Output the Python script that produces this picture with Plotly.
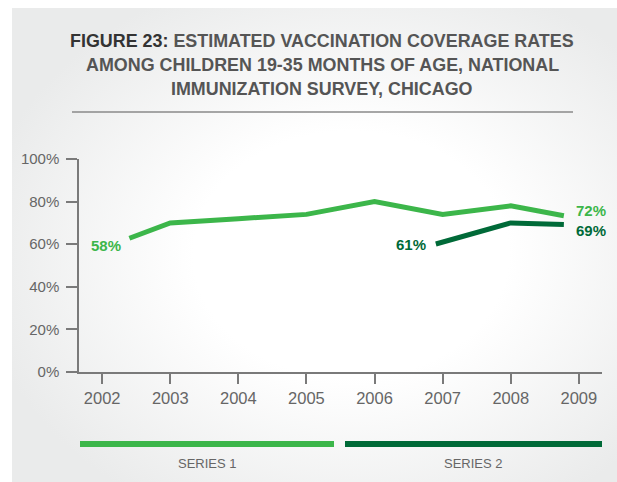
import base64
import plotly.graph_objects as go

# ---- data -------------------------------------------------------------
years = [2002, 2003, 2004, 2005, 2006, 2007, 2008, 2009]
series1_years = [2002, 2003, 2004, 2005, 2006, 2007, 2008, 2009]
series1_values = [58, 70, 72, 74, 80, 74, 78, 72]
series2_years = [2007, 2008, 2009]
series2_values = [61, 70, 69]
y_ticks = [0, 20, 40, 60, 80, 100]
y_tick_labels = ["0%", "20%", "40%", "60%", "80%", "100%"]
series_names = ["SERIES 1", "SERIES 2"]
title_lines = [
    "<b><span style='color:#333333'>FIGURE 23:</span> ESTIMATED VACCINATION COVERAGE RATES</b>",
    "<b>AMONG CHILDREN 19-35 MONTHS OF AGE, NATIONAL</b>",
    "<b>IMMUNIZATION SURVEY, CHICAGO</b>",
]

# ---- style ------------------------------------------------------------
LIGHT_GREEN = "#3cb64a"
DARK_GREEN = "#006a38"
AXIS_COLOR = "#7a7a7a"
TEXT_GREY = "#666666"
FONT = "Liberation Sans, Arial, sans-serif"

W, H = 617, 482
L, R, T, B = 79, 15, 159, 110
PW, PH = W - L - R, H - T - B


def px_x(px):
    return (px - L) / PW


def px_y(py):
    return (H - B - py) / PH


def trimmed(xs, ys, start_trim, end_trim):
    """Line runs from slightly inside the first/last year (linear interp)."""
    x0 = xs[0] + start_trim
    y0 = ys[0] + (ys[1] - ys[0]) * start_trim / (xs[1] - xs[0])
    x1 = xs[-1] - end_trim
    y1 = ys[-1] - (ys[-1] - ys[-2]) * end_trim / (xs[-1] - xs[-2])
    return [x0] + xs[1:-1] + [x1], [y0] + ys[1:-1] + [y1]


s1x, s1y = trimmed(series1_years, series1_values, 0.4, 0.22)
s2x, s2y = trimmed(series2_years, series2_values, -0.1, 0.22)

fig = go.Figure()
fig.add_trace(go.Scatter(x=s1x, y=s1y, mode="lines", name=series_names[0],
                         line=dict(color=LIGHT_GREEN, width=5), hoverinfo="skip"))
fig.add_trace(go.Scatter(x=s2x, y=s2y, mode="lines", name=series_names[1],
                         line=dict(color=DARK_GREEN, width=5), hoverinfo="skip"))

# soft radial background card
svg = (
    '<svg xmlns="http://www.w3.org/2000/svg" width="605" height="474" '
    'viewBox="0 0 605 474" preserveAspectRatio="none"><defs>'
    '<radialGradient id="g" cx="0.56" cy="0.52" r="0.62">'
    '<stop offset="0.42" stop-color="#ffffff"/>'
    '<stop offset="1" stop-color="#eaebeb"/></radialGradient></defs>'
    '<rect width="605" height="474" fill="url(#g)"/></svg>'
)
bg_src = "data:image/svg+xml;base64," + base64.b64encode(svg.encode()).decode()
fig.add_layout_image(dict(
    source=bg_src, xref="paper", yref="paper",
    x=px_x(12), y=px_y(8), sizex=(W - 12) / PW, sizey=(H - 8) / PH,
    xanchor="left", yanchor="top", sizing="stretch", layer="below",
))

annotations = []
# title
for i, line in enumerate(title_lines):
    annotations.append(dict(
        text=line, xref="paper", yref="paper", x=px_x(322), y=px_y(41 + 24 * i),
        xanchor="center", yanchor="middle", showarrow=False,
        font=dict(family=FONT, size=17.9, color="#555555"),
    ))

# end-point value labels
label_font = dict(family=FONT, size=15)
annotations += [
    dict(text=f"<b>{series1_values[0]}%</b>", x=s1x[0], y=s1y[0], xref="x", yref="y",
         xanchor="right", yanchor="middle", xshift=-6, yshift=-7, showarrow=False,
         font=dict(label_font, color=LIGHT_GREEN)),
    dict(text=f"<b>{series1_values[-1]}%</b>", x=s1x[-1], y=s1y[-1], xref="x", yref="y",
         xanchor="left", yanchor="middle", xshift=10, yshift=5, showarrow=False,
         font=dict(label_font, color=LIGHT_GREEN)),
    dict(text=f"<b>{series2_values[0]}%</b>", x=s2x[0], y=s2y[0], xref="x", yref="y",
         xanchor="right", yanchor="middle", xshift=-8, yshift=-1, showarrow=False,
         font=dict(label_font, color=DARK_GREEN)),
    dict(text=f"<b>{series2_values[-1]}%</b>", x=s2x[-1], y=s2y[-1], xref="x", yref="y",
         xanchor="left", yanchor="middle", xshift=10, yshift=-6, showarrow=False,
         font=dict(label_font, color=DARK_GREEN)),
]

# legend: coloured bars with labels beneath
legend_spans = [(80, 334), (345, 602)]
for (a, b), name in zip(legend_spans, series_names):
    annotations.append(dict(
        text=name, xref="paper", yref="paper", x=px_x((a + b) / 2), y=px_y(463),
        xanchor="center", yanchor="middle", showarrow=False,
        font=dict(family=FONT, size=13, color=TEXT_GREY),
    ))

shapes = [
    # rule under title
    dict(type="line", xref="paper", yref="paper", x0=px_x(72), x1=px_x(573),
         y0=px_y(112), y1=px_y(112), line=dict(color="#8a8a8a", width=1.5)),
]
for (a, b), col in zip(legend_spans, [LIGHT_GREEN, DARK_GREEN]):
    shapes.append(dict(type="rect", xref="paper", yref="paper",
                       x0=px_x(a), x1=px_x(b), y0=px_y(447), y1=px_y(441),
                       fillcolor=col, line=dict(width=0)))

fig.update_layout(
    width=W, height=H, autosize=False,
    margin=dict(l=L, r=R, t=T, b=B, pad=0),
    paper_bgcolor="white", plot_bgcolor="rgba(0,0,0,0)",
    showlegend=False,
    annotations=annotations, shapes=shapes,
    xaxis=dict(
        range=[2001.66, 2009.34], tickvals=years, ticktext=[str(y) for y in years],
        showgrid=False, zeroline=False, showline=True, linecolor=AXIS_COLOR, linewidth=1.5,
        ticks="outside", ticklen=10, tickwidth=1.5, tickcolor=AXIS_COLOR,
        tickfont=dict(family=FONT, size=16.5, color=TEXT_GREY), ticklabelstandoff=0,
        fixedrange=True,
    ),
    yaxis=dict(
        range=[0, 100], tickvals=y_ticks, ticktext=y_tick_labels,
        showgrid=False, zeroline=False, showline=True, linecolor=AXIS_COLOR, linewidth=1.5,
        ticks="outside", ticklen=11, tickwidth=1.5, tickcolor=AXIS_COLOR,
        tickfont=dict(family=FONT, size=15, color=TEXT_GREY), ticklabelstandoff=4,
        fixedrange=True,
    ),
)

fig.write_html("out.html", config={"displayModeBar": False})
